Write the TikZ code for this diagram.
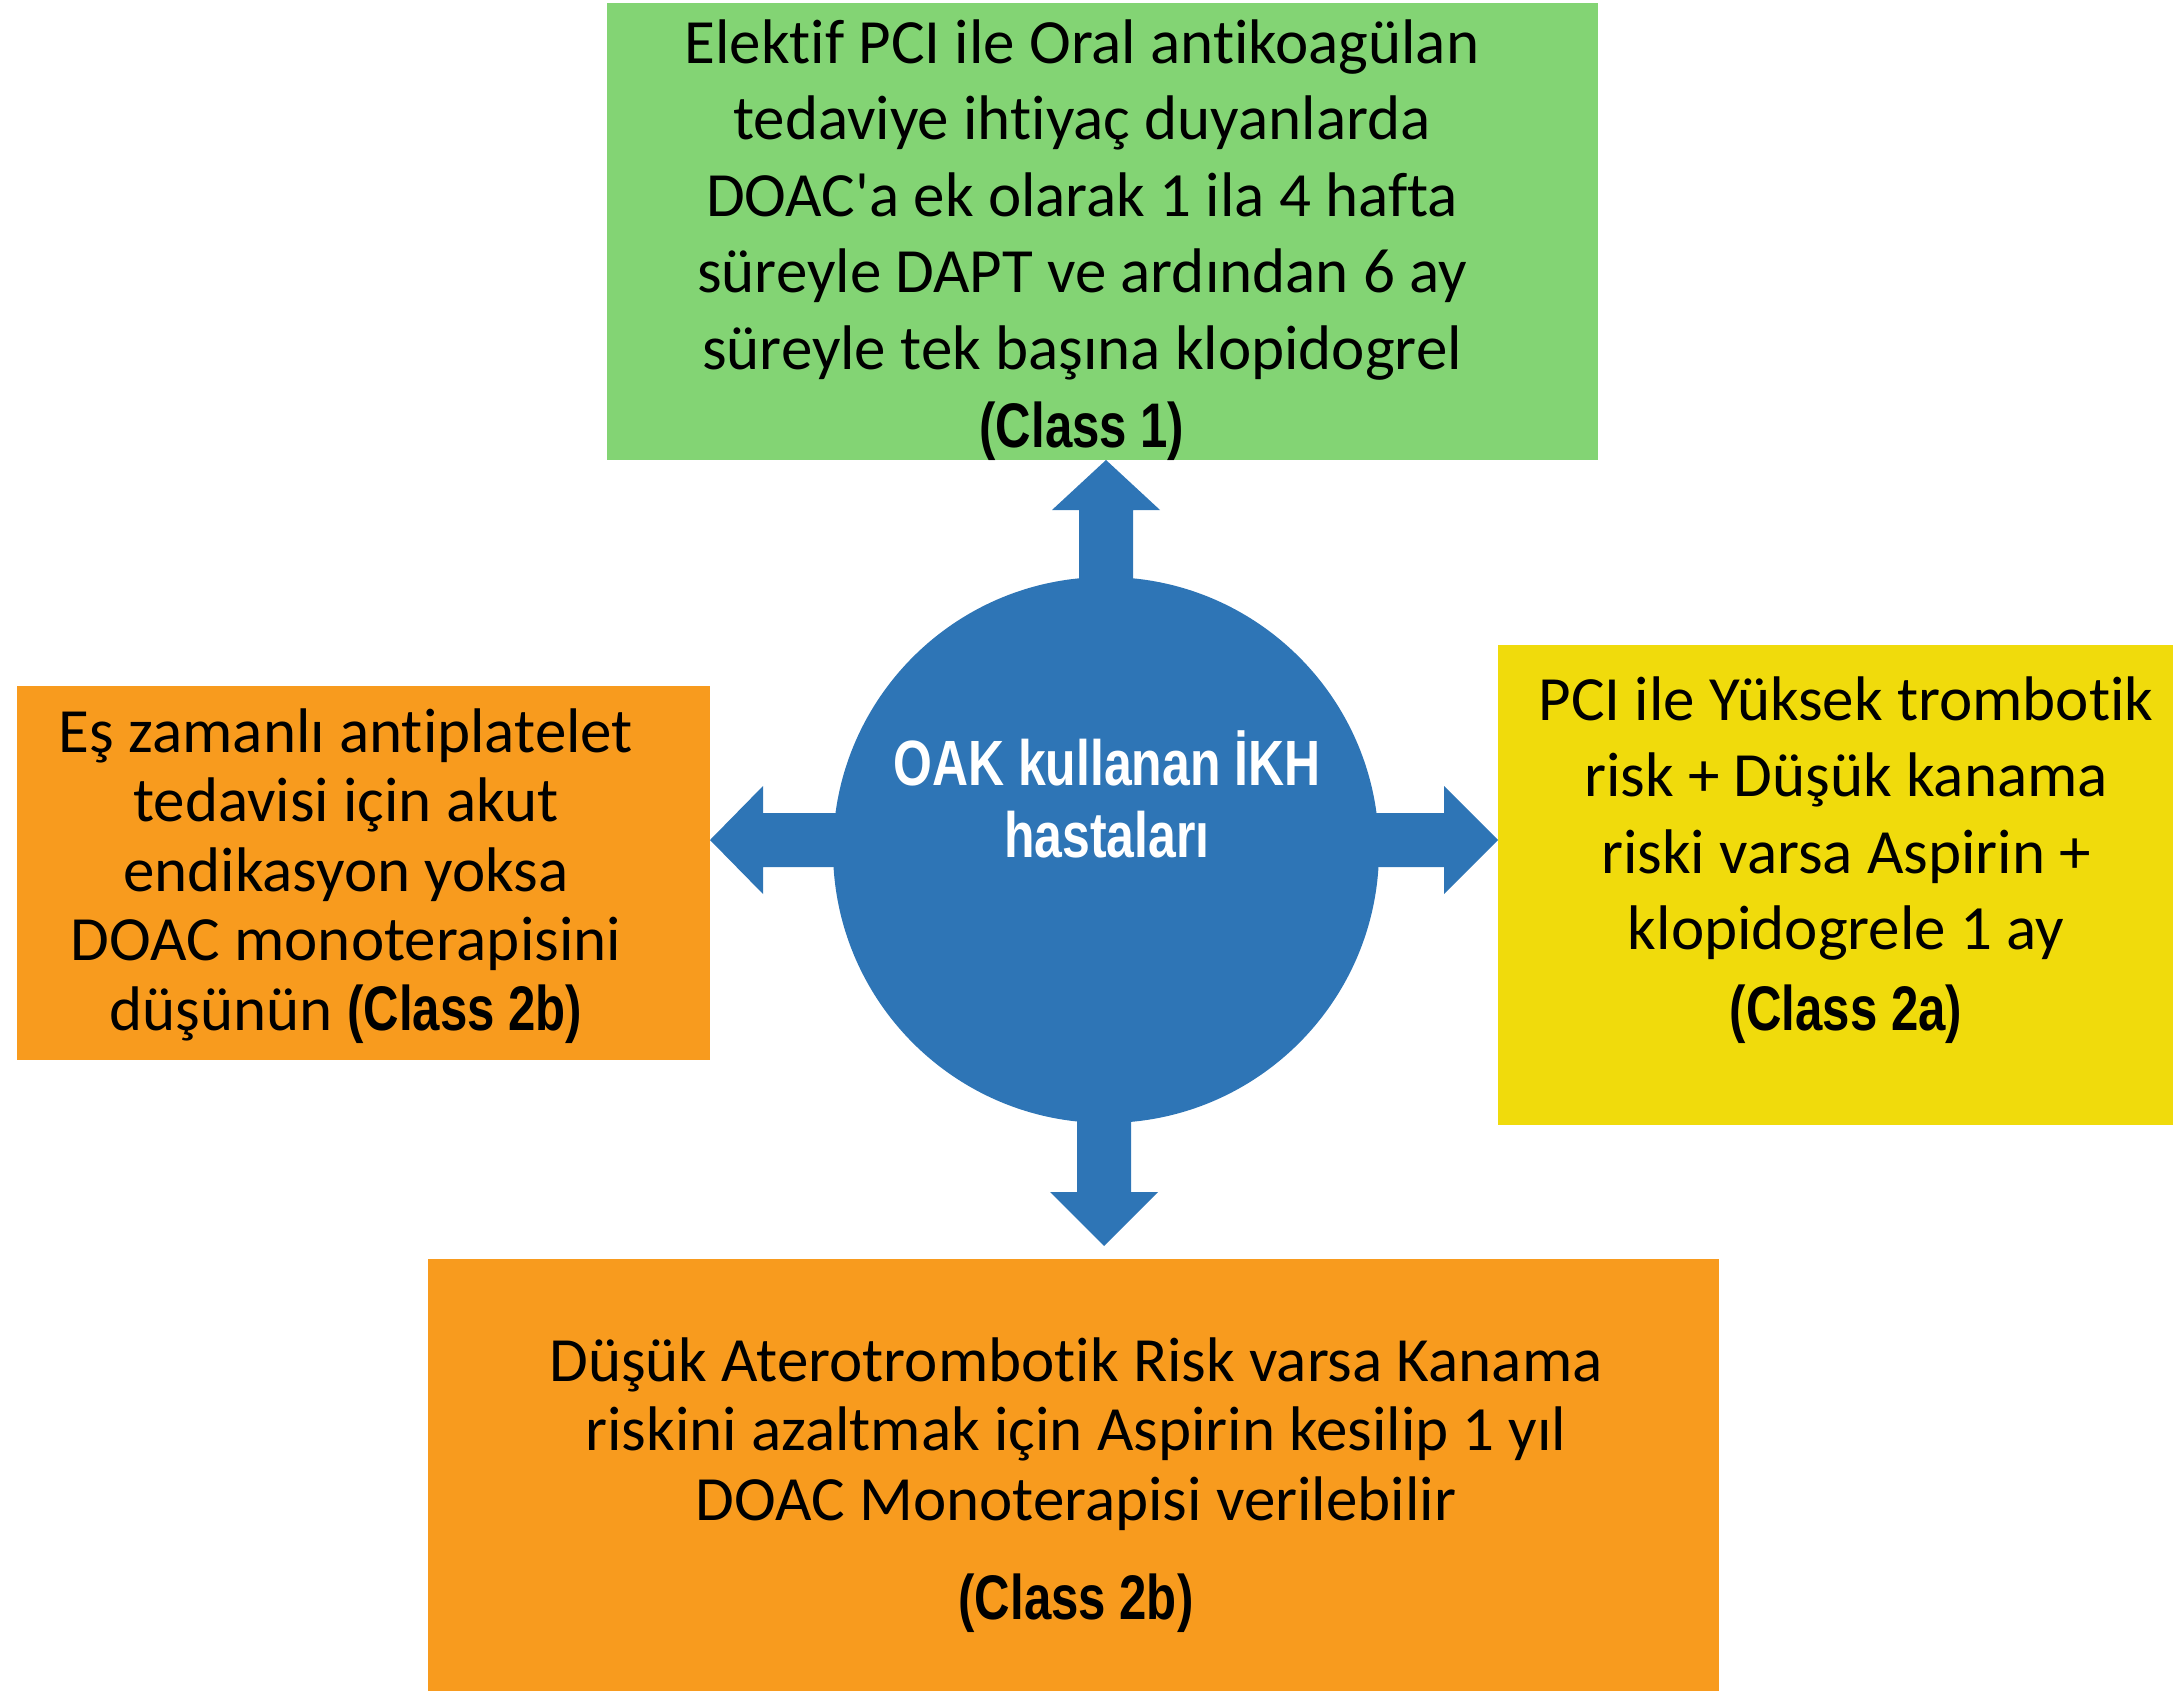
\documentclass[tikz,border=0pt]{standalone}
\usepackage{fontspec}
\setmainfont{Carlito}[Ligatures={NoCommon,TeXOff}]
\newfontfamily\condbold[FakeStretch=0.78]{Liberation Sans Bold}
\usetikzlibrary{calc}
\definecolor{boxgreen}{RGB}{131,212,116}
\definecolor{boxyellow}{RGB}{240,219,12}
\definecolor{boxorange}{RGB}{248,155,30}
\definecolor{hubblue}{RGB}{46,117,182}
\begin{document}
\begin{tikzpicture}[x=1pt,y=-1pt,
  panel/.style={rectangle, inner sep=0pt, outer sep=0pt},
  bodytext/.style={align=center, inner sep=0pt, text=black},
  wide/.style={font=\fontsize{63}{76.6}\selectfont},
  tight/.style={font=\fontsize{63}{69.5}\selectfont},
  blockarrow/.style={fill=hubblue}
]
\useasboundingbox (0,0) rectangle (2173,1691);

% recommendation panels
\node[panel, fill=boxgreen, minimum width=991pt, minimum height=457pt] (top) at (1102.5,231.5) {};
\node[panel, fill=boxorange, minimum width=693pt, minimum height=374pt] (left) at (363.5,873) {};
\node[panel, fill=boxyellow, minimum width=675pt, minimum height=480pt] (right) at (1835.5,885) {};
\node[panel, fill=boxorange, minimum width=1291pt, minimum height=432pt] (bottom) at (1073.5,1475) {};

\node[bodytext, wide] (toptext) at (1082,240) {Elektif PCI ile Oral antikoagülan\\tedaviye ihtiyaç duyanlarda\\DOAC'a ek olarak 1 ila 4 hafta\\süreyle DAPT ve ardından 6 ay\\süreyle tek başına klopidogrel\\[1.5pt]{\condbold (Class 1)}};
\node[bodytext, tight] (lefttext) at (346,876) {Eş zamanlı antiplatelet\\tedavisi için akut\\endikasyon yoksa\\DOAC monoterapisini\\düşünün {\condbold (Class 2b)}};
\node[bodytext, wide] (righttext) at (1846,860) {PCI ile Yüksek trombotik\\risk + Düşük kanama\\riski varsa Aspirin +\\klopidogrele 1 ay\\[4pt]{\condbold (Class 2a)}};
\node[bodytext, tight] (bottomtext) at (1076,1485) {Düşük Aterotrombotik Risk varsa Kanama\\riskini azaltmak için Aspirin kesilip 1 yıl\\DOAC Monoterapisi verilebilir\\[30pt]{\condbold (Class 2b)}};

% block arrows from the hub to each panel
\coordinate (hubc) at (1106,850);
\coordinate (tT) at (hubc |- top.south);
\coordinate (tB) at ($(hubc |- bottom.north)+(-2,-13)$);
\coordinate (tL) at ($(left.east |- hubc)+(0,-10)$);
\coordinate (tR) at ($(right.west |- hubc)+(0,-10)$);

\fill[blockarrow] (tT) -- ++(54,50) -- ++(-27,0) -- ++(0,200) -- ++(-54,0) -- ++(0,-200) -- ++(-27,0) -- cycle;
\fill[blockarrow] (tB) -- ++(54,-54) -- ++(-27,0) -- ++(0,-200) -- ++(-54,0) -- ++(0,200) -- ++(-27,0) -- cycle;
\fill[blockarrow] (tL) -- ++(53,-54) -- ++(0,27) -- ++(200,0) -- ++(0,54) -- ++(-200,0) -- ++(0,27) -- cycle;
\fill[blockarrow] (tR) -- ++(-54,-54) -- ++(0,27) -- ++(-200,0) -- ++(0,54) -- ++(200,0) -- ++(0,27) -- cycle;

% central hub
\node[circle, fill=hubblue, minimum size=546pt, inner sep=0pt] (hub) at (hubc) {};
\node[align=center, inner sep=0pt, text=white, font=\fontsize{64}{72}\condbold] (hubtext) at (1107,794) {OAK kullanan İKH\\hastaları};
\end{tikzpicture}
\end{document}
